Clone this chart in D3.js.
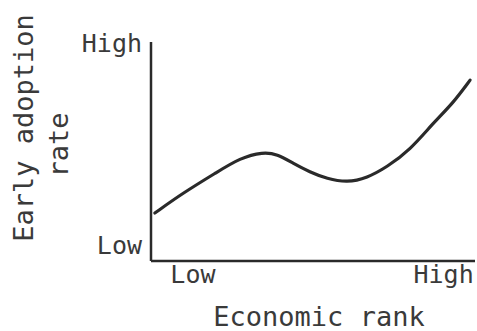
<!DOCTYPE html>
<html>
<head>
<meta charset="utf-8">
<script src="https://cdn.jsdelivr.net/npm/d3@7"></script>
<style>
  body { margin: 0; background: #fff; }
  text { font-family: "DejaVu Sans Mono", monospace; fill: #3a3a3a; }
</style>
</head>
<body>
<svg id="chart"></svg>
<script>
// economic rank (0 = low, 100 = high) and early adoption rate (0 = low, 100 = high)
var rankVals = [1.2, 10, 20.6, 27.7, 34.9, 39.3, 44.2, 49.5, 54.8, 61.1, 67.3, 73.5, 80.7, 87.9, 94.1, 99.4];
var rateVals = [21.9, 31.1, 40.6, 47, 49.8, 48.8, 44.7, 40.6, 37.6, 35.8, 37.9, 42.9, 50.7, 63, 72.1, 82.6];

var xTickVals = [12.9, 91];
var xTickLabels = ["Low", "High"];
var yTickVals = [7.3, 99.5];
var yTickLabels = ["Low", "High"];

drawChart();

function drawChart() {
    var svgWidth = 477,
        svgHeight = 331,
        margin = { top: 42, right: 5, bottom: 70, left: 151 };
    var width = svgWidth - margin.left - margin.right;
    var height = svgHeight - margin.top - margin.bottom;

    var svg = d3.select("#chart")
        .attr("width", svgWidth)
        .attr("height", svgHeight);

    var g = svg.append("g")
        .attr("transform", "translate(" + margin.left + "," + margin.top + ")");

    var x = d3.scaleLinear().domain([0, 100]).range([0, 321]);
    var y = d3.scaleLinear().domain([0, 100]).range([height, 0]);

    var data = rankVals.map(function(d, i) { return { rank: d, rate: rateVals[i] }; });

    var line = d3.line()
        .curve(d3.curveBasis)
        .x(function(d) { return x(d.rank); })
        .y(function(d) { return y(d.rate); });

    var xAxis = g.append("g")
        .attr("transform", "translate(0," + height + ")")
        .call(d3.axisBottom(x)
            .tickValues(xTickVals)
            .tickSize(0)
            .tickPadding(4)
            .tickFormat(function(d, i) { return xTickLabels[i]; }));
    xAxis.select(".domain").remove();
    xAxis.selectAll("text").attr("font-size", 25).attr("font-family", null);

    var yAxis = g.append("g")
        .call(d3.axisLeft(y)
            .tickValues(yTickVals)
            .tickSize(0)
            .tickPadding(9)
            .tickFormat(function(d, i) { return yTickLabels[i]; }));
    yAxis.select(".domain").remove();
    yAxis.selectAll("text").attr("font-size", 25).attr("font-family", null);

    // axis lines
    g.append("line")
        .attr("x1", 0).attr("x2", 0)
        .attr("y1", 0).attr("y2", height)
        .attr("stroke", "#2a2a2a")
        .attr("stroke-width", 2.5);
    g.append("line")
        .attr("x1", 0).attr("x2", 324)
        .attr("y1", height).attr("y2", height)
        .attr("stroke", "#2a2a2a")
        .attr("stroke-width", 2.5);

    g.append("path")
        .datum(data)
        .attr("fill", "none")
        .attr("stroke", "#2a2a2a")
        .attr("stroke-linejoin", "round")
        .attr("stroke-linecap", "round")
        .attr("stroke-width", 3.2)
        .attr("d", line);

    // axis titles
    svg.append("text")
        .attr("x", 319)
        .attr("y", 326)
        .attr("text-anchor", "middle")
        .attr("font-size", 27)
        .text("Economic rank");

    svg.append("text")
        .attr("transform", "translate(33,128) rotate(-90)")
        .attr("text-anchor", "middle")
        .attr("font-size", 27)
        .text("Early adoption");

    svg.append("text")
        .attr("transform", "translate(68,145) rotate(-90)")
        .attr("text-anchor", "middle")
        .attr("font-size", 27)
        .text("rate");
}
</script>
</body>
</html>
